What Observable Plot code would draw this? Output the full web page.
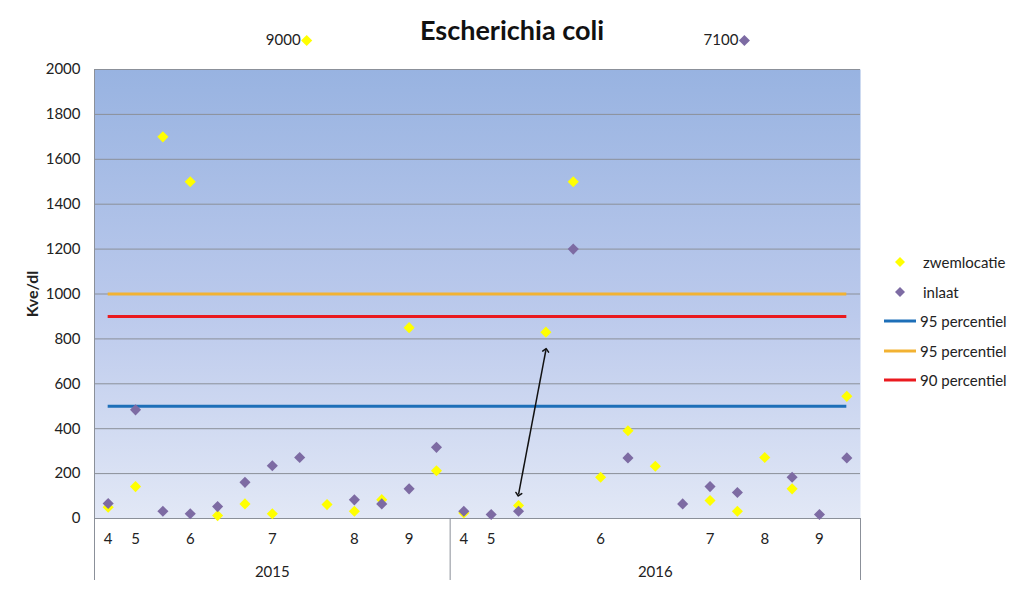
<!DOCTYPE html>
<html><head><meta charset="utf-8">
<script src="https://cdn.jsdelivr.net/npm/d3@7"></script>
<script src="https://cdn.jsdelivr.net/npm/@observablehq/plot@0.6"></script>
<style>
body{margin:0;background:#fff;font-family:Lato,"Open Sans",sans-serif;color:#111;}
#wrap{position:relative;width:1024px;height:590px;}
#title{position:absolute;left:0;width:1024px;top:13px;text-align:center;font-weight:bold;font-size:27px;line-height:34px;}
.lg{position:absolute;left:880px;height:22px;line-height:22px;font-size:15px;display:flex;align-items:center;white-space:nowrap;color:#222;}
.lg svg{margin-right:3px;}
</style></head><body>
<div id="wrap"><div id="title">Escherichia coli</div></div>
<script>
// ---- data ----
const monthLabels = ["4","5","","6","","","7","","","8","","9","",
                     "4","5","","","","6","","","","7","","8","","9",""];
const years = ["2015","2016"];
const yearCounts = [13, 15];
const zwemlocatie = [50,142,1700,1500,13,65,21,null,62,32,84,850,213,
                     25,null,58,830,1500,184,391,233,null,80,32,272,132,null,544];
const inlaat = [67,484,32,21,53,161,235,272,null,83,65,132,317,
                32,18,32,null,1200,null,270,null,65,142,116,null,184,18,270];
const offscale = [{series:"zwemlocatie", at:7, value:9000}, {series:"inlaat", at:23, value:7100}];
const percentileLabels = ["95 percentiel","95 percentiel","90 percentiel"];
const percentileValues = [500, 1000, 900];
const percentileColors = ["#1d6fb8", "#f2b232", "#ea1a1f"];
const arrowSpan = {x1:15, y1:107, x2:16, y2:750};
const yTicks = d3.range(0, 2001, 200);
const seriesColors = {zwemlocatie:"#ffff00", inlaat:"#7d6ba3"};

// ---- derived ----
const W = 1024, H = 590, mL = 94, mR = 164, mT = 69, mB = 72;
const n = monthLabels.length;
const idx = d3.range(n);
const rows = idx.map(i => ({i, zwem: zwemlocatie[i], inlaat: inlaat[i]}));
const bounds = [-0.5];
yearCounts.forEach(c => bounds.push(bounds[bounds.length-1] + c));
const yearRows = years.map((y, k) => ({year: y, mid: (bounds[k] + bounds[k+1]) / 2}));
const pxPerUnit = (H - mT - mB) / 2000;
const below = -62 / pxPerUnit;
const percentiles = percentileValues.map((v, k) => ({label: percentileLabels[k], value: v, color: percentileColors[k]}));

const plot = Plot.plot({
  width: W, height: H, marginLeft: mL, marginRight: mR, marginTop: mT, marginBottom: mB,
  style: {fontFamily: "Lato, 'Open Sans', sans-serif", fontSize: "15px", color: "#222", background: "transparent", overflow: "visible"},
  x: {type: "linear", domain: [-0.5, n - 0.5], axis: null},
  y: {domain: [0, 2000], axis: null},
  marks: [
    Plot.frame({fill: "url(#bgGrad)", stroke: null}),
    Plot.ruleY(yTicks, {stroke: "#8b9099", strokeWidth: 1}),
    Plot.axisY({ticks: yTicks, tickFormat: d => String(d), tickSize: 0, tickPadding: 14, label: null, fontSize: 15}),
    Plot.axisX({ticks: idx, tickFormat: i => monthLabels[i], tickSize: 0, tickPadding: 15, label: null, fontSize: 15}),
    Plot.ruleX([bounds[0]], {y1: 2000, y2: below, stroke: "#8b9099"}),
    Plot.ruleX(bounds.slice(1), {y1: 0, y2: below, stroke: "#8b9099"}),
    Plot.text(yearRows, {x: "mid", y: 0, dy: 54, text: "year", fontSize: 15}),
    Plot.text(["Kve/dl"], {frameAnchor: "left", textAnchor: "middle", dx: -62, dy: 0, rotate: -90, fontWeight: "bold", fontSize: 16}),
    Plot.ruleY(percentiles, {y: "value", x1: 0, x2: n - 1, stroke: "color", strokeWidth: 3}),
    Plot.dot(rows, {x: "i", y: "zwem", symbol: "diamond2", r: 5, fill: seriesColors.zwemlocatie}),
    Plot.dot(rows, {x: "i", y: "inlaat", symbol: "diamond2", r: 5, fill: seriesColors.inlaat}),
    Plot.link([arrowSpan], {x1: "x1", y1: "y1", x2: "x2", y2: "y2", stroke: "#111", strokeWidth: 1.5, markerStart: "arrow-reverse", markerEnd: "arrow"}),
    Plot.text(offscale, {x: "at", y: 2000, dy: -29, dx: 1, text: d => String(d.value), textAnchor: "end", fontSize: 15}),
    Plot.dot(offscale, {x: "at", y: 2000, dy: -29, dx: 7, symbol: "diamond2", r: 5, fill: d => seriesColors[d.series]})
  ]
});

const svg = d3.select(plot);
const grad = svg.insert("defs", ":first-child").append("linearGradient")
  .attr("id", "bgGrad").attr("x1", 0).attr("y1", 0).attr("x2", 0).attr("y2", 1);
grad.append("stop").attr("offset", "0%").attr("stop-color", "#98b3e1");
grad.append("stop").attr("offset", "55%").attr("stop-color", "#bccaec");
grad.append("stop").attr("offset", "100%").attr("stop-color", "#e2e8f6");

const wrap = document.getElementById("wrap");
plot.style.position = "absolute"; plot.style.left = "0"; plot.style.top = "0";
wrap.insertBefore(plot, wrap.firstChild);

// legend
const legendItems = [
  {label: "zwemlocatie", kind: "dot", color: seriesColors.zwemlocatie},
  {label: "inlaat", kind: "dot", color: seriesColors.inlaat},
  ...percentiles.map(p => ({label: p.label, kind: "line", color: p.color}))
];
legendItems.forEach((it, k) => {
  const div = document.createElement("div");
  div.className = "lg";
  div.style.top = (251 + k * 29.5) + "px";
  const sw = it.kind === "dot"
    ? `<svg width="40" height="22"><path d="M20,6L25,11L20,16L15,11Z" fill="${it.color}"/></svg>`
    : `<svg width="37" height="22"><line x1="4" x2="36" y1="11" y2="11" stroke="${it.color}" stroke-width="3"/></svg>`;
  div.innerHTML = sw + `<span>${it.label}</span>`;
  wrap.appendChild(div);
});
</script>
</body></html>
